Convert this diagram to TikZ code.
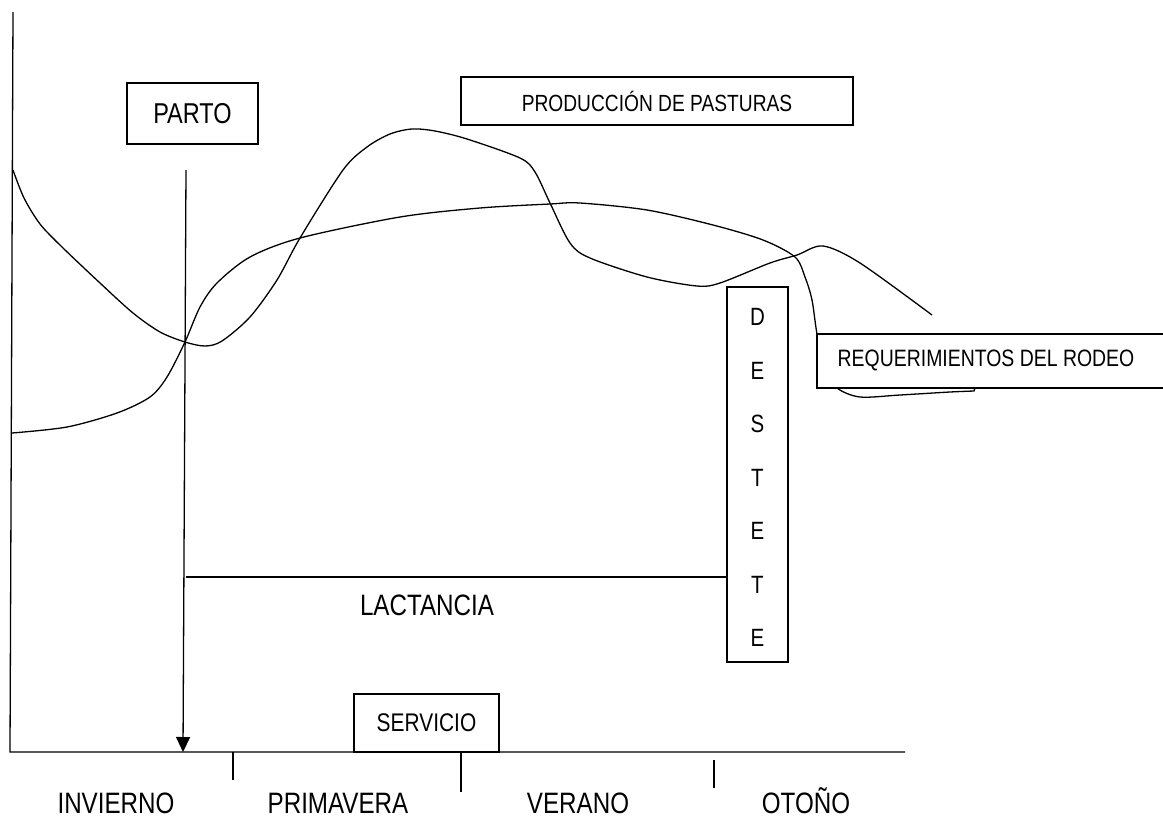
\documentclass[tikz,border=0pt]{standalone}
\usepackage{fontspec}
\setmainfont{Liberation Sans}[FakeStretch=0.82]
\usetikzlibrary{arrows.meta}
\newcommand{\tam}[1]{\fontsize{#1}{#1}\selectfont}
\tikzset{
  caja/.style={draw, fill=white, inner sep=0pt},
  estacion/.style={font=\tam{29.5}, inner sep=1pt, anchor=base},
}
\begin{document}
\begin{tikzpicture}[x=1pt,y=-1pt,line width=1.3pt]
\useasboundingbox (0,0) rectangle (1163,820);
% ejes
\coordinate (o) at (10,752);
\coordinate (ytop) at (13,12);
\coordinate (xfin) at (905,752);
\draw (ytop) -- (o) -- (xfin);
% divisiones
\draw (233,752) -- (233,780);
\draw (461,752) -- (461,792);
\draw (714,760) -- (714,788);
\node[estacion] (invierno) at (116,813) {INVIERNO};
\node[estacion] (primavera) at (338,813) {PRIMAVERA};
\node[estacion] (verano) at (578,813) {VERANO};
\node[estacion] (otono) at (806,813) {OTOÑO};
% curva de produccion
\draw plot[smooth] coordinates {(13,170) (24,198) (40,224) (62,247) (100,283) (133,313)
  (160,332) (185,342) (205,346) (222,341) (250,317) (277,280) (300,238)
  (343,170) (367,147) (390,134) (412,129) (435,131) (467,139) (520,158) (535,172)
  (550,203) (570,243) (590,258) (647,277) (697,286) (720,283) (770,263)
  (797,255) (823,246) (860,263) (932,315)};
% curva de requerimientos
\draw plot[smooth] coordinates {(12,433) (67,427) (117,413) (150,397) (167,377)
  (185,342) (200,307) (217,283) (250,257) (300,238) (400,217) (480,208)
  (550,204) (580,203) (647,210) (713,225) (763,240) (795,257) (805,277)
  (812,300) (817,334) (825,370) (837,388) (860,397) (900,395) (950,392)
  (974,391)} -- (975,388);
% parto
\node[caja, minimum width=131, minimum height=61, font=\tam{28.7}] (parto) at (192.5,113.5) {PARTO};
\coordinate (partoini) at (186,170);
\coordinate (partofin) at (183,752);
\draw[-{Triangle[width=14pt,length=15pt]}] (partoini) -- (partofin);
% cajas
\node[caja, minimum width=392, minimum height=48, font=\tam{23.4}] (pasturas) at (657,101) {PRODUCCIÓN DE PASTURAS};
\draw[fill=white] (1175,334) -- (817,334) -- (817,388) -- (1175,388);
\node[font=\tam{23.7}] (rodeo) at (986,360) {REQUERIMIENTOS DEL RODEO};
\node[caja, minimum width=145, minimum height=58, font=\tam{25.5}] (servicio) at (426.5,723) {SERVICIO};
% destete
\node[caja, minimum width=61, minimum height=375] (destete) at (757.5,474.5) {};
\foreach \l [count=\i from 0] in {D,E,S,T,E,T,E}
  \node[font=\tam{25}] (d\i) at (757.5,317+53.5*\i) {\l};
% lactancia
\coordinate (lacini) at (186,577);
\draw (lacini) -- (lacini -| destete.west);
\node[estacion] (lactancia) at (427,615) {LACTANCIA};
\end{tikzpicture}
\end{document}
